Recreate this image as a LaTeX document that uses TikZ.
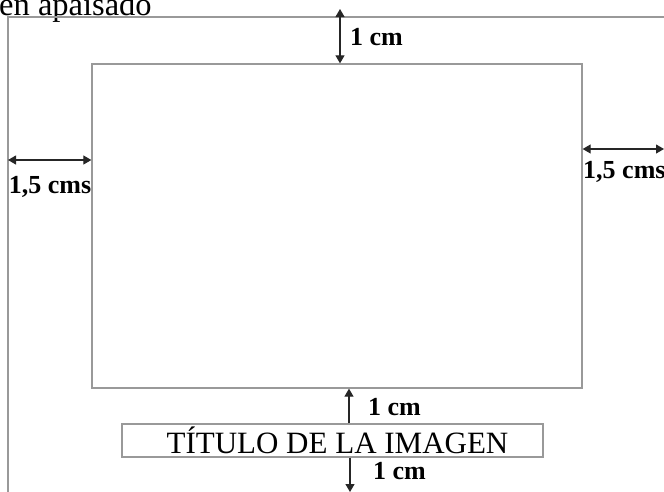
\documentclass[tikz,border=0pt]{standalone}
\usepackage{fontspec}
\setmainfont{Liberation Serif}
\usetikzlibrary{positioning}
\usetikzlibrary{arrows.meta}
\usetikzlibrary{calc}

\begin{document}
\begin{tikzpicture}[x=1pt,y=-1pt,
		>={Triangle[length=8pt,width=9pt]},
		marco/.style={draw=black!40,line width=1.3pt},
		cota/.style={draw=black!85,line width=1.1pt,<->},
		flecha/.style={draw=black!85,line width=1.1pt,->},
		medida/.style={font=\fontsize{26}{30}\selectfont\bfseries,inner sep=0pt},
		grande/.style={font=\fontsize{31}{36}\selectfont,inner sep=0pt}]
		\useasboundingbox (0,0) rectangle (664,491);
		\node (apaisado) [grande,anchor=base west,font=\fontsize{32.5}{36}\selectfont] at (-1,15) {en apaisado};
		\coordinate (hojaizq) at (8,492);
		\coordinate (esquina) at (8,17);
		\coordinate (hojader) at (665,17);
		\draw [marco] (hojaizq) -- (esquina) -- (hojader);
		\node (imagen) [marco,minimum width=490pt,minimum height=324pt] at (337,226) {};
		\node (titulo) [marco,grande,minimum width=421pt,minimum height=33pt] at (332.5,440.5) {\hspace*{10pt}TÍTULO DE LA IMAGEN};
		\coordinate (arriba) at (340,9);
		\coordinate (izq) at (8,160);
		\coordinate (der) at (664,149);
		\coordinate (medio) at (349,0);
		\coordinate (abajo) at (350,492);
		\draw [cota] (arriba) -- (arriba |- imagen.north);
		\draw [cota] (izq) -- (izq -| imagen.west);
		\draw [cota] (imagen.east |- der) -- (der);
		\draw [flecha] (titulo.north -| medio) -- (imagen.south -| medio);
		\draw [flecha] (titulo.south -| abajo) -- (abajo);
		\node (cmarriba) [medida,anchor=base west] at (350,45) {1 cm};
		\node (cmsizq) [medida,anchor=base] at (50,193) {1,5 cms};
		\node (cmsder) [medida,anchor=base west] at (583,178) {1,5 cms};
		\node (cmmedio) [medida,anchor=base west] at (368,415) {1 cm};
		\node (cmabajo) [medida,anchor=base west] at (373,479) {1 cm};
	\end{tikzpicture}
\end{document}
